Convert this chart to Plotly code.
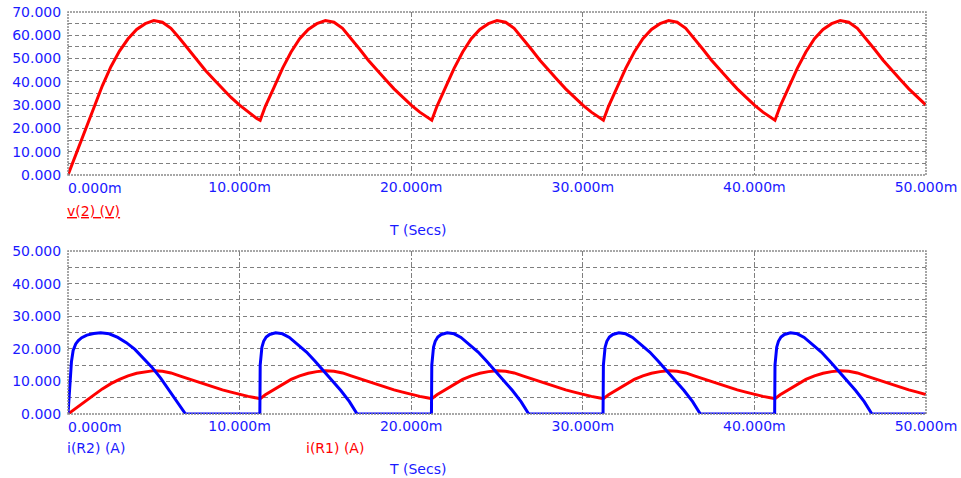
import plotly.graph_objects as go

# ---------------- data (time in ms) ----------------
T_V = [
    0, 0.5, 1, 1.5, 2, 2.5, 3, 3.5, 4, 4.5, 5, 5.5, 6, 6.5, 7, 7.5, 8, 8.5, 9, 9.5, 10, 10.5, 11, 11.2,
    11.5, 12, 12.5, 13, 13.5, 14, 14.5, 15, 15.5, 16, 16.5, 17, 17.5, 18, 18.5, 19, 19.5, 20, 20.5, 21, 21.2,
    21.5, 22, 22.5, 23, 23.5, 24, 24.5, 25, 25.5, 26, 26.5, 27, 27.5, 28, 28.5, 29, 29.5, 30, 30.5, 31, 31.2,
    31.5, 32, 32.5, 33, 33.5, 34, 34.5, 35, 35.5, 36, 36.5, 37, 37.5, 38, 38.5, 39, 39.5, 40, 40.5, 41, 41.2,
    41.5, 42, 42.5, 43, 43.5, 44, 44.5, 45, 45.5, 46, 46.5, 47, 47.5, 48, 48.5, 49, 49.5, 50,
]

V2 = [
    0, 9.8, 19.5, 29.0, 38.3, 46.5, 53.2, 58.5, 62.5, 65.0, 66.3, 65.6, 63.0, 58.7, 54.0, 49.3, 45.0, 41.0, 37.0, 33.3, 30.0, 27.0, 24.3, 23.5,
    29.5, 37.5, 45.8, 52.8, 58.5, 62.5, 65.0, 66.3, 65.6, 63.0, 58.7, 54.0, 49.3, 45.0, 41.0, 37.0, 33.3, 30.0, 27.0, 24.3, 23.5,
    29.5, 37.5, 45.8, 52.8, 58.5, 62.5, 65.0, 66.3, 65.6, 63.0, 58.7, 54.0, 49.3, 45.0, 41.0, 37.0, 33.3, 30.0, 27.0, 24.3, 23.5,
    29.5, 37.5, 45.8, 52.8, 58.5, 62.5, 65.0, 66.3, 65.6, 63.0, 58.7, 54.0, 49.3, 45.0, 41.0, 37.0, 33.3, 30.0, 27.0, 24.3, 23.5,
    29.5, 37.5, 45.8, 52.8, 58.5, 62.5, 65.0, 66.3, 65.6, 63.0, 58.7, 54.0, 49.3, 45.0, 41.0, 37.0, 33.3, 30.0,
]

I_R1 = [
    0, 2.0, 3.9, 5.8, 7.7, 9.3, 10.6, 11.7, 12.5, 13.0, 13.3, 13.1, 12.6, 11.7, 10.8, 9.9, 9.0, 8.2, 7.4, 6.7, 6.0, 5.4, 4.9, 4.7,
    5.9, 7.5, 9.2, 10.6, 11.7, 12.5, 13.0, 13.3, 13.1, 12.6, 11.7, 10.8, 9.9, 9.0, 8.2, 7.4, 6.7, 6.0, 5.4, 4.9, 4.7,
    5.9, 7.5, 9.2, 10.6, 11.7, 12.5, 13.0, 13.3, 13.1, 12.6, 11.7, 10.8, 9.9, 9.0, 8.2, 7.4, 6.7, 6.0, 5.4, 4.9, 4.7,
    5.9, 7.5, 9.2, 10.6, 11.7, 12.5, 13.0, 13.3, 13.1, 12.6, 11.7, 10.8, 9.9, 9.0, 8.2, 7.4, 6.7, 6.0, 5.4, 4.9, 4.7,
    5.9, 7.5, 9.2, 10.6, 11.7, 12.5, 13.0, 13.3, 13.1, 12.6, 11.7, 10.8, 9.9, 9.0, 8.2, 7.4, 6.7, 6.0,
]

T_R2 = [
    0, 0.05, 0.1, 0.2, 0.3, 0.45, 0.6, 0.8, 1.1, 1.5, 1.9, 2.4, 2.9, 3.4, 3.9, 4.4, 4.9, 5.4, 5.9, 6.4, 6.85,
    11.18, 11.2, 11.3, 11.4, 11.55, 11.75, 12.1, 12.5, 12.9, 13.4, 13.9, 14.4, 14.9, 15.4, 15.9, 16.4, 16.85,
    21.18, 21.2, 21.3, 21.4, 21.55, 21.75, 22.1, 22.5, 22.9, 23.4, 23.9, 24.4, 24.9, 25.4, 25.9, 26.4, 26.85,
    31.18, 31.2, 31.3, 31.4, 31.55, 31.75, 32.1, 32.5, 32.9, 33.4, 33.9, 34.4, 34.9, 35.4, 35.9, 36.4, 36.85,
    41.18, 41.2, 41.3, 41.4, 41.55, 41.75, 42.1, 42.5, 42.9, 43.4, 43.9, 44.4, 44.9, 45.4, 45.9, 46.4, 46.85,
    50,
]

I_R2 = [
    0, 5, 9.5, 16, 19.5, 21.5, 22.5, 23.4, 24.2, 24.7, 24.9, 24.6, 23.5, 21.9, 19.8, 17.2, 14.3, 11.0, 7.3, 3.7, 0,
    0, 15, 20.5, 22.3, 23.6, 24.4, 24.9, 24.6, 23.5, 21.3, 19.0, 16.2, 13.3, 10.3, 7.2, 3.8, 0,
    0, 15, 20.5, 22.3, 23.6, 24.4, 24.9, 24.6, 23.5, 21.3, 19.0, 16.2, 13.3, 10.3, 7.2, 3.8, 0,
    0, 15, 20.5, 22.3, 23.6, 24.4, 24.9, 24.6, 23.5, 21.3, 19.0, 16.2, 13.3, 10.3, 7.2, 3.8, 0,
    0, 15, 20.5, 22.3, 23.6, 24.4, 24.9, 24.6, 23.5, 21.3, 19.0, 16.2, 13.3, 10.3, 7.2, 3.8, 0,
    0,
]

X_TICKS = [10, 20, 30, 40, 50]
X_TICKTEXT = ["10.000m", "20.000m", "30.000m", "40.000m", "50.000m"]
X_FIRST_LABEL = "0.000m"
Y1_TICKS = [0, 5, 10, 15, 20, 25, 30, 35, 40, 45, 50, 55, 60, 65, 70]
Y1_TICKTEXT = ["0.000", "", "10.000", "", "20.000", "", "30.000", "", "40.000", "", "50.000", "", "60.000", "", "70.000"]
Y2_TICKS = [0, 5, 10, 15, 20, 25, 30, 35, 40, 45, 50]
Y2_TICKTEXT = ["0.000", "", "10.000", "", "20.000", "", "30.000", "", "40.000", "", "50.000"]

# ---------------- styling ----------------
RED = "#ff0000"
BLUE = "#0000ff"
TXT_BLUE = "#1a1aff"
FONT = "DejaVu Sans"
FS = 14
GRID = "#7f7f7f"

fig = go.Figure()
fig.add_trace(go.Scatter(x=T_V, y=V2, mode="lines", line=dict(color=RED, width=3),
                         xaxis="x", yaxis="y", name="v(2) (V)"))
fig.add_trace(go.Scatter(x=T_V, y=I_R1, mode="lines", line=dict(color=RED, width=3),
                         xaxis="x2", yaxis="y2", name="i(R1) (A)"))
fig.add_trace(go.Scatter(x=T_R2, y=I_R2, mode="lines", line=dict(color=BLUE, width=3),
                         xaxis="x2", yaxis="y2", name="i(R2) (A)"))

xcommon = dict(range=[0, 50], tickvals=X_TICKS, ticktext=X_TICKTEXT, automargin=False,
               showgrid=True, gridcolor=GRID, gridwidth=1, griddash="5px,2px,2px,2px",
               zeroline=False, showline=False, ticks="", ticklabelstandoff=2,
               tickfont=dict(family=FONT, size=FS, color=TXT_BLUE),
               fixedrange=True)
ycommon = dict(showgrid=True, gridcolor=GRID, gridwidth=1, griddash="4px,3px", automargin=False,
               zeroline=False, showline=False, ticks="outside", ticklen=3,
               tickcolor="rgba(0,0,0,0)", tickfont=dict(family=FONT, size=FS, color=TXT_BLUE),
               fixedrange=True)

H = 478
PT, PB = 12, 64
ph = H - PT - PB
top_lo = (H - PB - 175) / ph
bot_hi = (H - PB - 251) / ph

fig.update_layout(
    width=961, height=H,
    margin=dict(l=68, r=35, t=PT, b=PB, autoexpand=False),
    paper_bgcolor="white", plot_bgcolor="white",
    showlegend=False,
    xaxis=dict(domain=[0, 1], anchor="y", **xcommon),
    yaxis=dict(domain=[top_lo, 1], anchor="x", range=[0, 70], tickvals=Y1_TICKS, ticktext=Y1_TICKTEXT, **ycommon),
    xaxis2=dict(domain=[0, 1], anchor="y2", **xcommon),
    yaxis2=dict(domain=[0, bot_hi], anchor="x2", range=[0, 50], tickvals=Y2_TICKS, ticktext=Y2_TICKTEXT, **ycommon),
)

# plot frames (dotted)
for xr, yr in (("x", "y"), ("x2", "y2")):
    fig.add_shape(type="rect", xref=f"{xr} domain", yref=f"{yr} domain", x0=0, x1=1, y0=0, y1=1,
                  line=dict(color="#8a8a8a", width=1.5, dash="2px,1px"), layer="above")

def pyp(py):
    return (H - PB - py) / ph

ann = []
# first x tick label (left aligned at t = 0)
for xref, yc in (("x", 175), ("x2", 414)):
    ann.append(dict(x=0, y=pyp(yc + 13), xref=xref, yref="paper",
                    text=X_FIRST_LABEL, showarrow=False, xanchor="left", yanchor="middle", xshift=-2,
                    font=dict(family=FONT, size=FS, color=TXT_BLUE)))
ann.append(dict(x=0, y=pyp(211), xref="paper", yref="paper", text="<u>v(2) (V)</u>", showarrow=False,
                xanchor="left", yanchor="middle", xshift=-3, font=dict(family=FONT, size=FS, color=RED)))
ann.append(dict(x=(417 - 68) / 858, y=pyp(230), xref="paper", yref="paper", text="T (Secs)", showarrow=False,
                xanchor="center", yanchor="middle", font=dict(family=FONT, size=FS, color=TXT_BLUE)))
ann.append(dict(x=0, y=pyp(448), xref="paper", yref="paper", text="i(R2) (A)", showarrow=False,
                xanchor="left", yanchor="middle", xshift=-3, font=dict(family=FONT, size=FS, color=TXT_BLUE)))
ann.append(dict(x=(307 - 68) / 858, y=pyp(448), xref="paper", yref="paper", text="i(R1) (A)", showarrow=False,
                xanchor="left", yanchor="middle", xshift=-3, font=dict(family=FONT, size=FS, color=RED)))
ann.append(dict(x=(417 - 68) / 858, y=pyp(469), xref="paper", yref="paper", text="T (Secs)", showarrow=False,
                xanchor="center", yanchor="middle", font=dict(family=FONT, size=FS, color=TXT_BLUE)))
fig.update_layout(annotations=ann)

fig.write_html("out.html", config={"displayModeBar": False},
               post_script="document.body.style.margin='0';document.body.style.padding='0';")
